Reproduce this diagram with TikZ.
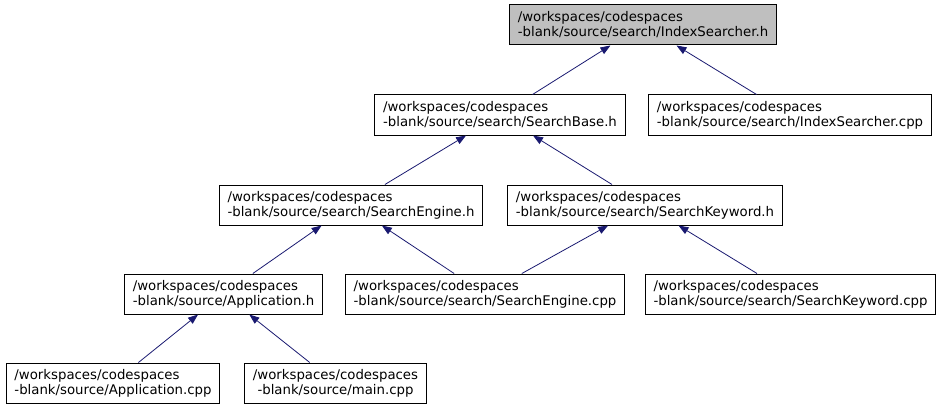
\documentclass[tikz,border=0pt]{standalone}
\usepackage{fontspec}
\setmainfont{DejaVu Sans}
\usetikzlibrary{arrows.meta}
\definecolor{edgeblue}{HTML}{191970}
\definecolor{rootgray}{HTML}{BFBFBF}
\begin{document}
\begin{tikzpicture}[x=1pt,y=-1pt,font=\fontsize{13.3}{15}\selectfont,
  file/.style={draw=black,line width=1pt,fill=white,align=left,inner xsep=8.2pt,inner ysep=0pt,minimum height=40pt},
  dep/.style={draw=edgeblue,line width=.8pt,-{Triangle[length=10pt,width=7.5pt]}}]
\useasboundingbox (0,0) rectangle (941,409);
\node[file,fill=rootgray] (idxh) at (643,25) {/workspaces/codespaces\\-blank/source/search/IndexSearcher.h};
\node[file] (baseh) at (500,115) {/workspaces/codespaces\\-blank/source/search/SearchBase.h};
\node[file] (idxcpp) at (790,115) {/workspaces/codespaces\\-blank/source/search/IndexSearcher.cpp};
\node[file] (engh) at (351,205) {/workspaces/codespaces\\-blank/source/search/SearchEngine.h};
\node[file] (keyh) at (645,205) {/workspaces/codespaces\\-blank/source/search/SearchKeyword.h};
\node[file] (apph) at (223.5,294) {/workspaces/codespaces\\-blank/source/Application.h};
\node[file] (engcpp) at (485,294) {/workspaces/codespaces\\-blank/source/search/SearchEngine.cpp};
\node[file] (keycpp) at (790.5,294) {/workspaces/codespaces\\-blank/source/search/SearchKeyword.cpp};
\node[file] (appcpp) at (113,383) {/workspaces/codespaces\\-blank/source/Application.cpp};
\node[file,align=center] (maincpp) at (335.5,383) {/workspaces/codespaces\\-blank/source/main.cpp};
\draw[dep] (baseh) -- (idxh);
\draw[dep] (idxcpp) -- (idxh);
\draw[dep] (engh) -- (baseh);
\draw[dep] (keyh) -- (baseh);
\draw[dep] (apph) -- (engh);
\draw[dep] (engcpp) -- (engh);
\draw[dep] (engcpp) -- (keyh);
\draw[dep] (keycpp) -- (keyh);
\draw[dep] (appcpp) -- (apph);
\draw[dep] (maincpp) -- (apph);
\end{tikzpicture}
\end{document}
